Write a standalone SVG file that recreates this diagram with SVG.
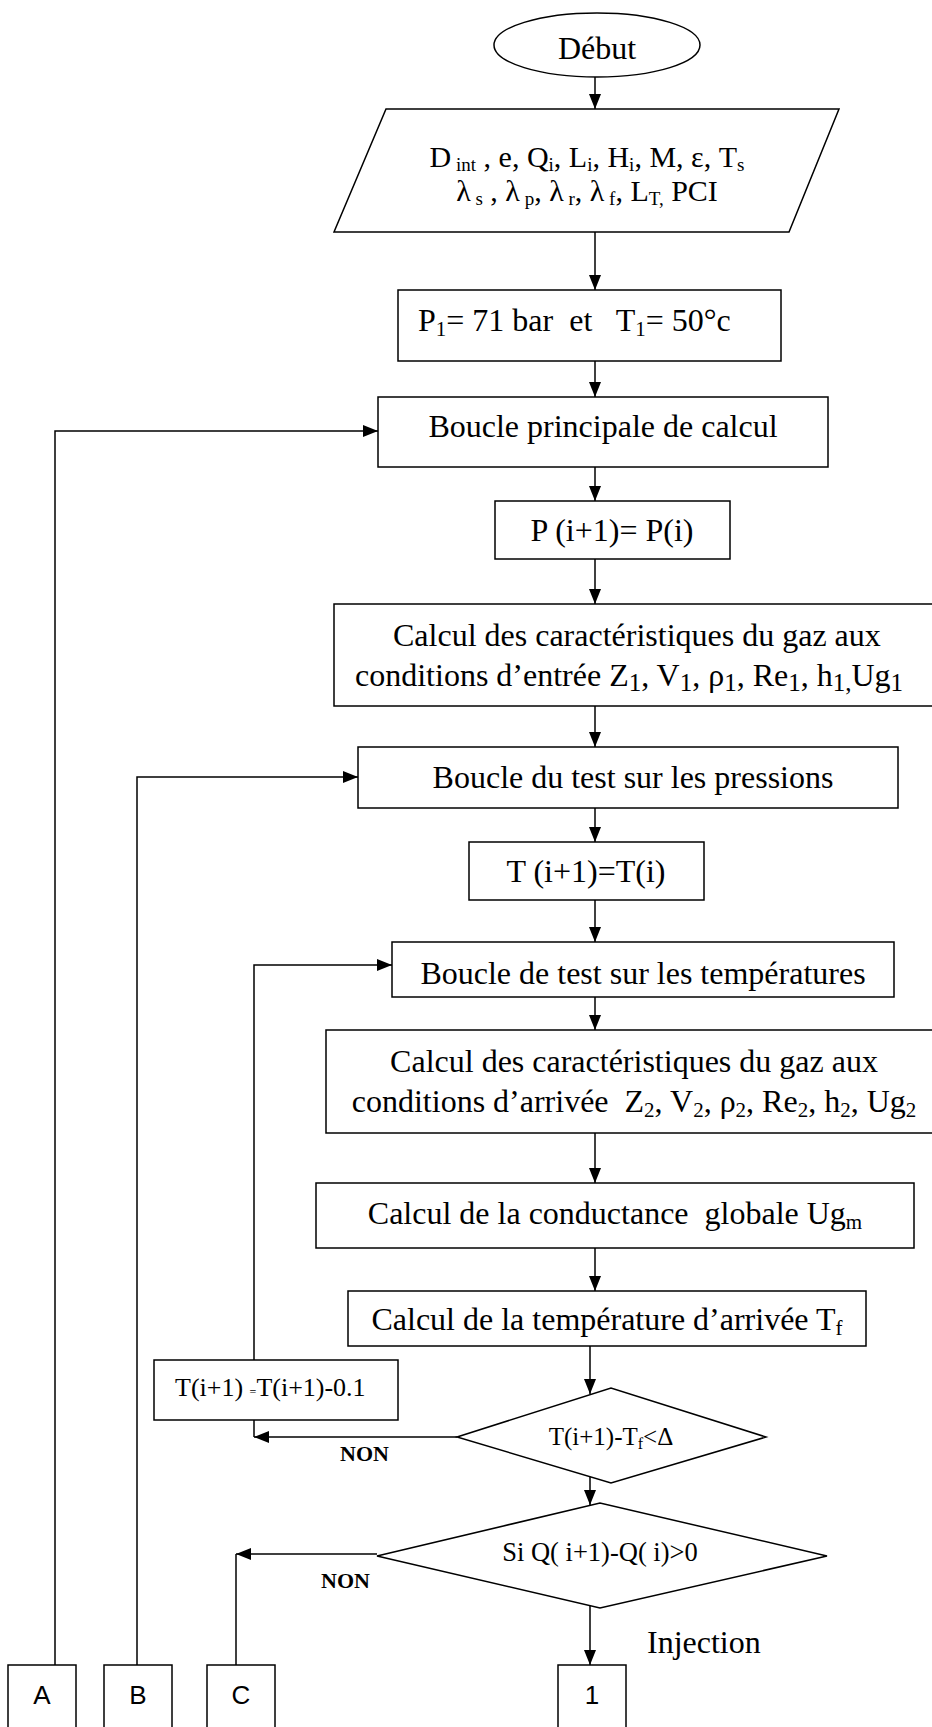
<svg xmlns="http://www.w3.org/2000/svg" width="932" height="1727" viewBox="0 0 932 1727">
<defs>
<style>
.t{font-family:"Liberation Serif","Times New Roman",serif;fill:#000;font-size:32px}
.m{text-anchor:middle}
.s{font-family:"Liberation Sans",Arial,sans-serif;font-size:26px;text-anchor:middle;fill:#000}
.b{font-weight:bold;font-size:22px}
.box{fill:#fff;stroke:#000;stroke-width:1.5}
.ln{fill:none;stroke:#000;stroke-width:1.5}
.arr{marker-end:url(#ah)}
</style>
<marker id="ah" viewBox="0 0 15 12" refX="15" refY="6" markerWidth="15" markerHeight="12" markerUnits="userSpaceOnUse" orient="auto"><path d="M0,0 L15,6 L0,12 z" fill="#000"/></marker>
</defs>
<rect width="932" height="1727" fill="#fff"/>
<g id="connectors">
<path class="ln arr" d="M595,77 V109"/>
<path class="ln arr" d="M595,232 V290"/>
<path class="ln arr" d="M595,361 V397"/>
<path class="ln arr" d="M595,467 V501"/>
<path class="ln arr" d="M595,559 V604"/>
<path class="ln arr" d="M595,706 V747"/>
<path class="ln arr" d="M595,808 V842"/>
<path class="ln arr" d="M595,900 V942"/>
<path class="ln arr" d="M595,997 V1030"/>
<path class="ln arr" d="M595,1133 V1183"/>
<path class="ln arr" d="M595,1248 V1291"/>
<path class="ln arr" d="M590,1346 V1394"/>
<path class="ln arr" d="M590,1477 V1505"/>
<path class="ln arr" d="M590,1606 V1665"/>
<path class="ln arr" d="M55,1665 V431 H378"/>
<path class="ln arr" d="M137,1665 V777 H358"/>
<path class="ln arr" d="M254,1360 V965 H392"/>
<path class="ln arr" d="M457,1437 H254"/>
<path class="ln" d="M254,1420 V1437"/>
<path class="ln arr" d="M377,1554 H236"/>
<path class="ln" d="M236,1665 V1554"/>
</g>
<g id="debut">
<ellipse class="box" cx="597" cy="45" rx="103" ry="32"/>
<text class="t m" x="597" y="59">Début</text>
</g>
<g id="donnees">
<polygon class="box" points="386,109 839,109 789,232 334,232"/>
<text class="t m" x="587" y="167" style="font-size:30px" xml:space="preserve">D<tspan font-size="19" dy="4"> int</tspan><tspan dy="-4"> , e, Q</tspan><tspan font-size="19" dy="4">i</tspan><tspan dy="-4">, L</tspan><tspan font-size="19" dy="4">i</tspan><tspan dy="-4">, H</tspan><tspan font-size="19" dy="4">i</tspan><tspan dy="-4">, M, ε, T</tspan><tspan font-size="19" dy="4">s</tspan></text>
<text class="t m" x="587" y="201" style="font-size:30px" xml:space="preserve">λ<tspan font-size="19" dy="4"> s</tspan><tspan dy="-4"> , λ</tspan><tspan font-size="19" dy="4"> p</tspan><tspan dy="-4">, λ</tspan><tspan font-size="19" dy="4"> r</tspan><tspan dy="-4">, λ</tspan><tspan font-size="19" dy="4"> f</tspan><tspan dy="-4">, L</tspan><tspan font-size="19" dy="4">T,</tspan><tspan dy="-4"> PCI</tspan></text>
</g>
<g id="init">
<rect class="box" x="398" y="290" width="383" height="71"/>
<text class="t" x="418" y="331" xml:space="preserve">P<tspan font-size="21" dy="5">1</tspan><tspan dy="-5">= 71 bar  et   T</tspan><tspan font-size="21" dy="5">1</tspan><tspan dy="-5">= 50°c</tspan></text>
</g>
<g id="boucle-principale">
<rect class="box" x="378" y="397" width="450" height="70"/>
<text class="t m" x="603" y="437">Boucle principale de calcul</text>
</g>
<g id="p-init">
<rect class="box" x="495" y="501" width="235" height="58"/>
<text class="t m" x="612" y="541">P (i+1)= P(i)</text>
</g>
<g id="calcul-entree">
<rect class="box" x="334" y="604" width="620" height="102"/>
<text class="t" x="393" y="646">Calcul des caractéristiques du gaz aux</text>
<text class="t" x="355" y="686" xml:space="preserve">conditions d’entrée Z<tspan font-size="25" dy="5">1</tspan><tspan dy="-5">, V</tspan><tspan font-size="25" dy="5">1</tspan><tspan dy="-5">, ρ</tspan><tspan font-size="25" dy="5">1</tspan><tspan dy="-5">, Re</tspan><tspan font-size="25" dy="5">1</tspan><tspan dy="-5">, h</tspan><tspan font-size="25" dy="5">1,</tspan><tspan dy="-5">Ug</tspan><tspan font-size="25" dy="5">1</tspan></text>
</g>
<g id="boucle-pressions">
<rect class="box" x="358" y="747" width="540" height="61"/>
<text class="t m" x="633" y="788">Boucle du test sur les pressions</text>
</g>
<g id="t-init">
<rect class="box" x="469" y="842" width="235" height="58"/>
<text class="t m" x="586" y="882">T (i+1)=T(i)</text>
</g>
<g id="boucle-temperatures">
<rect class="box" x="392" y="942" width="502" height="55"/>
<text class="t m" x="643" y="984">Boucle de test sur les températures</text>
</g>
<g id="calcul-arrivee">
<rect class="box" x="326" y="1030" width="630" height="103"/>
<text class="t m" x="634" y="1072">Calcul des caractéristiques du gaz aux</text>
<text class="t m" x="634" y="1112" xml:space="preserve">conditions d’arrivée  Z<tspan font-size="21" dy="5">2</tspan><tspan dy="-5">, V</tspan><tspan font-size="21" dy="5">2</tspan><tspan dy="-5">, ρ</tspan><tspan font-size="21" dy="5">2</tspan><tspan dy="-5">, Re</tspan><tspan font-size="21" dy="5">2</tspan><tspan dy="-5">, h</tspan><tspan font-size="21" dy="5">2</tspan><tspan dy="-5">, Ug</tspan><tspan font-size="21" dy="5">2</tspan></text>
</g>
<g id="conductance">
<rect class="box" x="316" y="1183" width="598" height="65"/>
<text class="t m" x="615" y="1224" xml:space="preserve">Calcul de la conductance  globale Ug<tspan font-size="21" dy="5">m</tspan></text>
</g>
<g id="temperature-arrivee">
<rect class="box" x="348" y="1291" width="518" height="55"/>
<text class="t m" x="607" y="1330" xml:space="preserve">Calcul de la température d’arrivée T<tspan font-size="21" dy="5">f</tspan></text>
</g>
<g id="test-temperature">
<polygon class="box" points="457,1437 611,1388 766,1437 611,1483"/>
<text class="t m" x="611" y="1445" style="font-size:25px">T(i+1)-T<tspan font-size="16" dy="4">f</tspan><tspan dy="-4">&lt;Δ</tspan></text>
</g>
<g id="t-decrement">
<rect class="box" x="154" y="1360" width="244" height="60"/>
<text class="t" x="175" y="1396" style="font-size:26px" xml:space="preserve">T(i+1) <tspan font-size="12">=</tspan>T(i+1)-0.1</text>
</g>
<g id="test-debit">
<polygon class="box" points="377,1556 600,1503 827,1556 600,1608"/>
<text class="t m" x="600" y="1561" style="font-size:26.5px">Si Q( i+1)-Q( i)&gt;0</text>
</g>
<g id="labels">
<text class="t b" x="340" y="1461">NON</text>
<text class="t b" x="321" y="1588">NON</text>
<text class="t" x="647" y="1653">Injection</text>
</g>
<g id="conn-A"><rect class="box" x="8" y="1665" width="68" height="80"/><text class="s" x="42" y="1704">A</text></g>
<g id="conn-B"><rect class="box" x="104" y="1665" width="68" height="80"/><text class="s" x="138" y="1704">B</text></g>
<g id="conn-C"><rect class="box" x="207" y="1665" width="68" height="80"/><text class="s" x="241" y="1704">C</text></g>
<g id="conn-1"><rect class="box" x="558" y="1665" width="68" height="80"/><text class="s" x="592" y="1704">1</text></g>
</svg>
